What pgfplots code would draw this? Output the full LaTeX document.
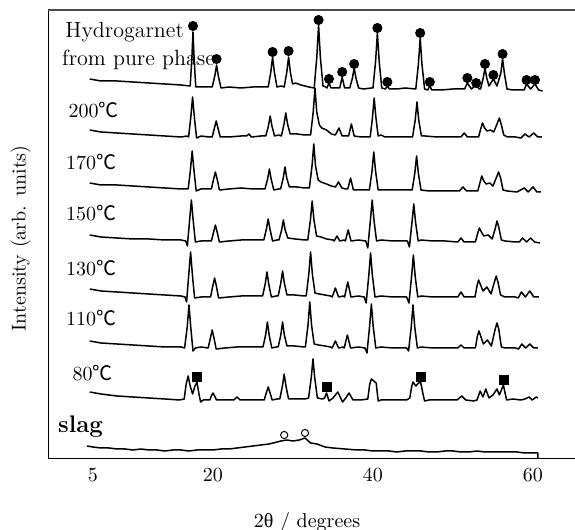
\documentclass[border=0pt]{standalone}
\usepackage{fontspec}
\usepackage{pgfplots}
\pgfplotsset{compat=1.18}
\newfontfamily\cjk{Noto Sans CJK JP}
\newfontfamily\greek{Liberation Serif}
\newcommand{\degC}{{\cjk ℃}}
\begin{document}
\begin{tikzpicture}
\useasboundingbox (0,0) rectangle (287.5pt,265pt);
\begin{axis}[
  at={(24.25pt,36pt)}, anchor=south west,
  scale only axis, width=263.25pt, height=224pt,
  xmin=-0.56, xmax=65.25, ymin=0, ymax=448,
  axis x line*=bottom, axis y line*=left,
  xtick={5,20,40,60}, ytick=\empty,
  major tick length=0pt,
  xticklabel style={yshift=-2pt},
  xlabel={2{\greek θ} / degrees},
  xlabel style={at={(axis description cs:0.491,-0.143)}, anchor=center},
  ylabel={Intensity (arb. units)},
  ylabel style={at={(axis description cs:-0.053,0.49)}, anchor=center},
  clip=false,
  trace/.style={black, mark=none, line width=0.75pt, line join=round},
]
% top frame line
\draw[gray!60!black, line width=1pt] (rel axis cs:0,1) -- (rel axis cs:1,1);

% Hydrogarnet from pure phase
\addplot[trace] coordinates {(4.6,379)(6,377)(8,377)(10,376)(12,375)(14,374)(16,373)(17.15,372)
 (17.35,398)(17.5,426)(17.65,398)(17.85,371)(18.5,371)(19.5,371)(19.9,371)(20.23,382)(20.45,393)
 (20.67,382)(21.0,370)(22,371)(23.5,370)(25,371)(26.5,371)(26.9,371)(27.23,386)(27.45,401)
 (27.67,386)(28.0,371)(28.5,372)(28.9,371)(29.23,386)(29.45,401)(29.67,386)(29.95,374)(30.3,375)
 (31,373)(32,371)(32.65,370)(32.98,401)(33.2,433)(33.42,401)(33.75,372)(34.1,371)(34.25,370)
 (34.5,375)(34.75,370)(35.5,370)(35.85,370)(36.15,381)(36.45,370)(37.1,370)(37.43,380)(37.65,390)
 (37.87,380)(38.2,370)(38.8,369)(39.8,370)(40.0,370)(40.33,397)(40.55,425)(40.77,397)(41.1,370)
 (41.55,369)(41.8,372)(42.05,369)(43,369)(44,370)(45.35,369)(45.68,394)(45.9,420)(46.12,394)
 (46.45,369)(46.85,368)(47.1,372)(47.35,368)(48.5,368)(50,369)(51.45,369)(51.8,375)(52.3,369)
 (52.9,373)(53.3,369)(53.45,369)(53.78,380)(54.0,390)(54.22,380)(54.5,372)(55.05,379)(55.5,372)
 (55.98,385)(56.2,399)(56.42,385)(56.75,369)(57.5,368)(58.5,368)(58.9,368)(59.2,374)(59.7,369)
 (60.25,374)(60.7,368)(61.2,367)};
\addplot[only marks, mark=*, mark size=2.3pt, black] coordinates {
 (17.5,432)(20.45,399)(27.45,406)(29.45,407)(33.2,438)(34.5,379)(36.15,386)(37.65,394)
 (40.55,430)(41.8,376)(45.9,425)(47.1,376)(51.8,380)(52.9,375)(54.0,394)(55.05,383)
 (56.2,404)(59.2,378)(60.25,378)};

% 200 C
\addplot[trace] coordinates {(4.6,328)(6,326)(8,325)(10,324)(12,323)(14,322)(16,321)(16.8,322)
 (16.95,321)(17.23,341)(17.45,361)(17.67,341)(17.95,320)(18.5,322)(19.5,321)(19.9,321)(20.15,329)
 (20.4,337)(20.65,329)(20.9,321)(22,321)(23.5,322)(24.2,322)(24.5,324)(24.8,321)(26,322)(26.6,322)
 (26.93,332)(27.15,342)(27.37,332)(27.7,322)(28.2,323)(28.55,322)(28.88,334)(29.1,345)(29.32,334)
 (29.65,324)(30.5,324)(31.5,323)(32.2,323)(32.53,346)(32.75,370)(32.97,346)(33.3,333)(33.6,330)
 (34.2,328)(34.8,324)(35.3,323)(35.75,330)(36.15,322)(36.7,322)(36.95,322)(37.3,334)(37.65,322)
 (38.5,321)(39.5,321)(39.65,321)(39.93,340)(40.15,360)(40.37,340)(40.65,322)(41,323)(41.5,321)
 (42.5,321)(44,321)(44.95,321)(45.28,338)(45.5,356)(45.72,338)(46.05,322)(46.5,322)(48,321)
 (49.5,321)(51.0,321)(51.4,325)(51.8,321)(52.8,321)(53.2,321)(53.5,330)(53.7,335)(53.95,330)
 (54.25,327)(54.7,328)(55.1,326)(55.5,334)(55.8,340)(56.05,333)(56.35,323)(56.8,321)(57.8,321)
 (58.5,320)(59.0,324)(59.5,321)(60.1,325)(60.6,321)(61.1,321)};

% 170 C
\addplot[trace] coordinates {(4.6,275)(6,273)(8,273)(10,272)(12,271)(14,270)(16,269)(16.9,269)
 (17.18,288)(17.4,307)(17.62,288)(17.9,267)(18.5,269)(19.5,269)(19.8,269)(20.05,278)(20.3,286)
 (20.55,278)(20.8,268)(22,269)(23.5,270)(25,269)(26.5,269)(26.83,279)(27.05,289)(27.27,279)
 (27.6,268)(28.2,269)(28.45,269)(28.78,280)(29.0,291)(29.22,280)(29.55,271)(30.5,271)(31.5,270)
 (32.05,270)(32.38,292)(32.6,314)(32.82,292)(33.15,278)(33.5,276)(34.2,274)(34.8,272)(35.3,271)
 (35.7,276)(36.1,270)(36.6,269)(36.85,269)(37.2,280)(37.55,268)(38.5,268)(39.55,268)(39.88,287)
 (40.1,306)(40.32,287)(40.65,268)(41.5,268)(43,268)(44.5,268)(44.9,268)(45.23,285)(45.45,302)
 (45.67,285)(46.0,268)(47,267)(48.5,267)(50.8,267)(51.25,271)(51.7,267)(52.6,267)(53.1,267)
 (53.4,276)(53.6,282)(53.85,277)(54.15,274)(54.6,275)(55.0,272)(55.45,281)(55.7,286)(55.95,280)
 (56.25,268)(56.8,267)(58,266)(58.9,270)(59.4,266)(60.0,271)(60.5,266)(61.0,266)};

% 150 C
\addplot[trace] coordinates {(4.6,223)(6,221)(8,220)(10,219)(12,219)(14,218)(16,218)(16.6,217)
 (16.8,212)(17.08,238)(17.3,258)(17.52,238)(17.8,216)(18.5,217)(19.5,217)(19.8,217)(20.05,225)
 (20.3,233)(20.55,225)(20.8,216)(22,217)(23.5,218)(25,218)(26.35,218)(26.68,229)(26.9,239)
 (27.12,229)(27.45,217)(28.0,218)(28.25,218)(28.58,228)(28.8,238)(29.02,228)(29.35,220)(30.3,219)
 (31.5,218)(31.85,218)(32.18,238)(32.4,257)(32.62,238)(32.95,222)(33.5,221)(34.2,219)(35.0,218)
 (35.15,217)(35.5,222)(35.85,217)(36.4,218)(36.55,217)(36.9,228)(37.25,217)(38.2,218)(39.1,217)
 (39.35,210)(39.68,238)(39.9,258)(40.12,238)(40.45,217)(41,218)(42.5,217)(44.3,217)(44.55,211)
 (44.88,236)(45.1,254)(45.32,236)(45.65,217)(46,218)(47.5,217)(49,217)(50.6,216)(51.0,220)
 (51.4,216)(52.6,216)(52.8,216)(53.1,225)(53.3,230)(53.55,226)(53.85,222)(54.4,223)(54.9,219)
 (55.3,230)(55.5,237)(55.72,231)(56.05,218)(56.5,217)(57.8,216)(58.3,216)(58.7,220)(59.2,216)
 (59.7,220)(60.2,216)(60.9,215)};

% 130 C
\addplot[trace] coordinates {(4.6,169)(6,167)(8,166)(10,165)(12,164)(14,163)(16,162)(16.5,161)
 (16.7,156)(16.98,184)(17.2,206)(17.42,184)(17.7,160)(18.5,161)(19.5,161)(19.7,161)(19.95,171)
 (20.2,180)(20.45,171)(20.7,160)(22,161)(23.5,162)(25,162)(26.2,162)(26.53,174)(26.75,186)
 (26.97,174)(27.3,161)(27.9,162)(28.15,162)(28.48,175)(28.7,187)(28.92,175)(29.25,163)(30.2,163)
 (31.4,162)(31.65,162)(31.98,184)(32.2,206)(32.42,184)(32.75,165)(33.3,164)(34,163)(34.7,162)
 (34.9,161)(35.3,170)(35.7,161)(36.3,162)(36.45,161)(36.85,176)(37.25,161)(38.2,162)(38.9,161)
 (39.15,155)(39.48,183)(39.7,205)(39.92,183)(40.25,161)(41,162)(42.5,161)(44.2,161)(44.5,155)
 (44.83,182)(45.05,203)(45.27,182)(45.6,161)(46,162)(47.5,161)(49,161)(50.6,161)(51.0,166)
 (51.4,161)(52.6,161)(52.75,161)(53.0,172)(53.2,178)(53.45,173)(53.75,167)(54.25,171)(54.75,164)
 (55.18,176)(55.4,182)(55.62,176)(55.95,163)(56.5,161)(57.8,161)(58.15,160)(58.55,166)(59.05,161)
 (59.6,167)(60.1,161)(60.75,161)};

% 110 C
\addplot[trace] coordinates {(4.6,117)(6,115)(8,114)(10,113)(12,112)(14,111)(16,111)(16.45,110)
 (16.78,131)(17.0,153)(17.22,131)(17.5,107)(17.8,110)(18.5,111)(19.4,110)(19.65,119)(19.9,128)
 (20.15,119)(20.4,109)(21.5,110)(23,111)(25,111)(26.25,111)(26.58,123)(26.8,136)(27.02,123)
 (27.35,110)(27.9,111)(28.15,111)(28.48,123)(28.7,136)(28.92,123)(29.25,112)(30.2,112)(31.4,111)
 (31.55,111)(31.88,133)(32.1,156)(32.32,133)(32.65,114)(33.2,113)(34,112)(34.7,111)(34.9,110)
 (35.3,117)(35.7,110)(36.3,111)(36.4,110)(36.8,123)(37.2,110)(38.2,111)(39.0,110)(39.25,105)
 (39.58,132)(39.8,154)(40.02,132)(40.35,110)(41,111)(42.5,110)(44.2,110)(44.45,107)(44.78,131)
 (45.0,153)(45.22,131)(45.55,110)(46,111)(47.5,110)(49,110)(50.6,110)(51.0,113)(51.4,110)
 (52.6,110)(52.8,110)(53.05,122)(53.25,127)(53.5,121)(53.8,114)(54.3,118)(54.8,112)(55.28,129)
 (55.5,135)(55.72,129)(56.05,111)(56.5,110)(57.8,110)(58.2,109)(58.6,114)(59.1,110)(59.6,114)
 (60.1,110)(60.6,110)};

% 80 C
\addplot[trace] coordinates {(4.6,66)(6,64)(8,62)(10,61)(12,60)(14,59)(15.8,58)(16.4,59)
 (16.65,74)(16.9,82)(17.15,72)(17.45,64)(17.75,72)(18.0,76)(18.25,64)(18.45,56)(18.8,58)(19.6,58)
 (19.8,62)(20.0,65)(20.2,62)(20.45,58)(21.5,58)(22.6,58)(23.0,61)(23.4,58)(24.5,58)(26.4,58)
 (26.7,66)(26.9,71)(27.1,66)(27.4,58)(28.0,59)(28.35,59)(28.68,72)(28.9,84)(29.12,72)(29.45,59)
 (30.5,59)(31.5,59)(31.95,60)(32.28,80)(32.5,99)(32.72,80)(33.05,60)(33.7,59)(33.95,60)(34.2,65)
 (34.5,57)(35.0,60)(35.6,66)(36.2,56)(36.6,60)(37.0,65)(37.5,58)(38.5,58)(39.35,59)(39.6,74)
 (39.8,79)(40.4,75)(40.65,57)(41,58)(42.5,58)(44.2,58)(44.6,60)(44.85,72)(45.0,76)(45.35,72)
 (45.7,75)(45.95,76)(46.2,66)(46.45,57)(47,58)(48.5,58)(50.5,58)(51.1,62)(51.6,58)(52.6,57)
 (53.0,58)(53.4,67)(53.75,61)(54.1,69)(54.5,60)(55.0,63)(55.5,69)(55.8,63)(56.3,73)(56.7,58)
 (57.5,59)(58.5,58)(59.0,59)(59.5,61)(59.9,58)(60.4,61)(60.6,60)};
\addplot[only marks, mark=square*, mark size=2.2pt, black] coordinates {
 (18.0,81)(34.2,71)(45.95,81)(56.35,78)};

% slag
\addplot[trace] coordinates {(4.25,12)(5,11)(6,10)(7,10)(8,9)(9,9)(10,8)(11,9)(12,8)(13,8)(14,7)(15,8)
 (16,8)(17,7)(18,8)(19,8)(20,8)(21,9)(22,9)(23,10)(24,11)(25,12)(26,13)(27,14)(27.5,15)
 (28.5,17)(29.2,18)(30,17)(30.8,18)(31.5,20)(32.2,15)(33,14)(34,11)(35,10)(36.5,9)(38,8)
 (39,8)(40,7)(41,7)(42,7)(43,6)(44,7)(45,7)(46,7)(47,6)(48,6)(49,7)(50,7)(51,6)(52,6)
 (53,7)(54,6)(55,6)(56,6)(57,6)(58,6)(59,5)(60,5)(60.6,5)(60.6,0)};
\addplot[only marks, mark=o, mark size=1.8pt, black, mark options={fill=white, line width=0.5pt}] coordinates {
 (28.9,23)(31.5,25)};

% labels
\node[anchor=west, inner sep=0pt, font=\fontsize{11}{13}\selectfont] at (axis cs:1.5,426) {Hydrogarnet};
\node[anchor=west, inner sep=0pt, font=\fontsize{11}{13}\selectfont] at (axis cs:1.1,398) {from pure phase};
\node[anchor=west, inner sep=0pt] at (axis cs:1.9,348) {200\degC};
\node[anchor=west, inner sep=0pt] at (axis cs:1.6,296) {170\degC};
\node[anchor=west, inner sep=0pt] at (axis cs:1.6,245) {150\degC};
\node[anchor=west, inner sep=0pt] at (axis cs:1.6,190) {130\degC};
\node[anchor=west, inner sep=0pt] at (axis cs:1.6,140) {110\degC};
\node[anchor=west, inner sep=0pt] at (axis cs:2.4,85) {80\degC};
\node[anchor=west, inner sep=0pt, font=\large\bfseries] at (axis cs:0.6,31) {slag};
\end{axis}
\end{tikzpicture}
\end{document}
